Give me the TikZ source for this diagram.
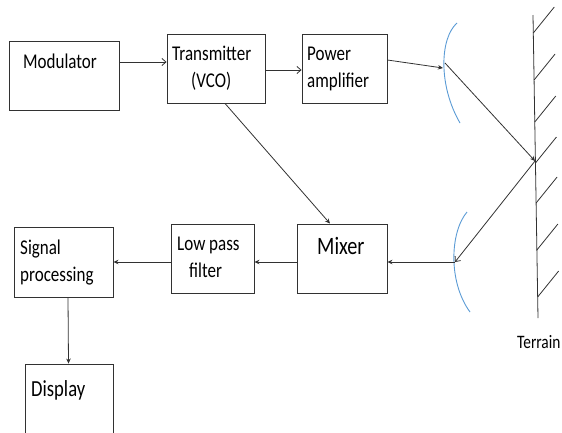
\documentclass[tikz,border=0pt]{standalone}
\usepackage{fontspec}
\setmainfont{Carlito}[FakeStretch=0.81]
\usetikzlibrary{arrows.meta}
\definecolor{antblue}{RGB}{91,155,213}
\definecolor{linegray}{RGB}{50,50,50}
\tikzset{
  box/.style={draw=linegray, line width=0.9pt, rectangle, inner sep=0pt},
  txt/.style={inner sep=0pt, anchor=base west, font=\fontsize{21}{24}\selectfont},
  bigtxt/.style={inner sep=0pt, anchor=base west, font=\fontsize{25}{28}\selectfont},
  conn/.style={draw=linegray, line width=0.8pt, -{Stealth[length=5pt,width=4.5pt]}},
  connopen/.style={draw=linegray, line width=0.8pt, -{Straight Barb[length=4pt,width=7pt]}},
  antenna/.style={draw=antblue, line width=0.9pt},
  ground/.style={draw=linegray, line width=0.8pt}
}
\begin{document}
\begin{tikzpicture}[x=1pt,y=-1pt]
\useasboundingbox (0,0) rectangle (562,432);
% boxes
\node[box, minimum width=110pt, minimum height=69pt] (mod) at (64,75.5) {};
\node[box, minimum width=98pt, minimum height=69pt] (tx) at (216,68.5) {};
\node[box, minimum width=85pt, minimum height=69pt] (pa) at (344.5,68.5) {};
\node[box, minimum width=99pt, minimum height=70pt] (sp) at (63.5,262) {};
\node[box, minimum width=83pt, minimum height=69pt] (lpf) at (212.5,258.5) {};
\node[box, minimum width=90pt, minimum height=69pt] (mix) at (342,258.5) {};
\node[box, minimum width=88pt, minimum height=80pt] (disp) at (69,404) {};
% texts
\node[txt] (modt) at (23,68) {Modulator};
\node[txt] (txt1) at (172,60) {Transmitter};
\node[txt] (txt2) at (191,87) {(VCO)};
\node[txt] (pat1) at (307,60) {Power};
\node[txt] (pat2) at (307,87) {amplifier};
\node[txt] (spt1) at (20,254) {Signal};
\node[txt] (spt2) at (20,281) {processing};
\node[txt] (lpft1) at (177,250) {Low pass};
\node[txt] (lpft2) at (189,277) {filter};
\node[bigtxt] (mixt) at (317,254) {Mixer};
\node[txt, font=\fontsize{23}{26}\selectfont] (dispt) at (31,396) {Display};
\node[txt, font=\fontsize{19}{22}\selectfont] (terr) at (517,348) {Terrain};
% antennas and terrain
\coordinate (txin) at (443,68);
\coordinate (txout) at (445,63);
\coordinate (hit) at (535,161);
\coordinate (rxant) at (455,262);
\coordinate (tt) at (533,15);
\coordinate (tb) at (538,318);
\draw[antenna] (457,23) .. controls (440,38) and (438,85) .. (460,123);
\draw[antenna] (467,212) .. controls (450,232) and (448,282) .. (470,312);
\draw[ground] (tt) -- (tb);
\foreach \yy in {33,80,122,163,203,250,297}{
  \pgfmathsetmacro{\xx}{533+5*(\yy-15)/303}
  \draw[ground] (\xx,\yy) -- ++(21,-26);
}
% connectors
\draw[connopen] ([yshift=13.5pt]mod.east) -- ([yshift=6.5pt]tx.west);
\draw[connopen] ([yshift=-1.5pt]tx.east) -- ([yshift=-1.5pt]pa.west);
\draw[conn] ([yshift=8.5pt]pa.east) -- (txin);
\draw[conn] (txout) -- (hit);
\draw[connopen] (hit) -- (rxant);
\draw[conn] (rxant) -- ([yshift=-3.5pt]mix.east);
\draw[conn] ([yshift=-3.5pt]mix.west) -- ([yshift=-3.5pt]lpf.east);
\draw[conn] ([yshift=-3.5pt]lpf.west) -- (sp.east);
\draw[conn] ([xshift=9pt]tx.south) -- ([xshift=-12pt]mix.north);
\draw[conn] ([xshift=4.5pt]sp.south) -- ([xshift=-0.5pt]disp.north);
\end{tikzpicture}
\end{document}
